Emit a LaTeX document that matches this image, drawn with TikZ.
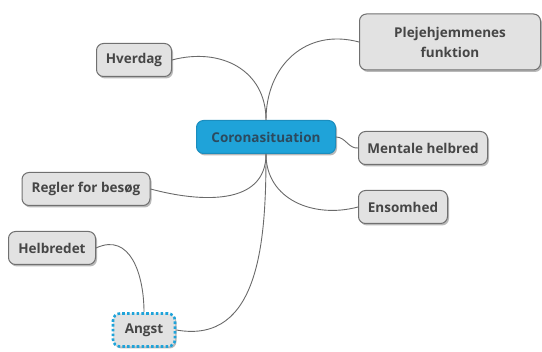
\documentclass[tikz,border=0pt]{standalone}
\usepackage{fontspec}
\setmainfont{Open Sans}
\usetikzlibrary{shadows}

\definecolor{boxfill}{HTML}{E2E2E2}
\definecolor{boxline}{HTML}{707070}
\definecolor{boxtext}{HTML}{464646}
\definecolor{corefill}{HTML}{1FA3D9}
\definecolor{coreline}{HTML}{1B8DBE}
\definecolor{coretext}{HTML}{2C4A5E}
\definecolor{branch}{HTML}{6A6A6A}

\tikzset{
  topic/.style={draw=boxline, fill=boxfill, rounded corners=7pt, line width=1pt,
    text=boxtext, font=\fontsize{13.5}{20}\selectfont\bfseries, align=center,
    minimum height=33pt, inner xsep=7pt,
    drop shadow={shadow xshift=1.5pt, shadow yshift=-2pt, fill=black!50, opacity=0.55}},
  core/.style={topic, draw=coreline, fill=corefill, text=coretext},
  marked/.style={topic, draw=corefill, line width=2.6pt, dash pattern=on 2.6pt off 2.2pt},
  link/.style={draw=branch, line width=0.9pt}
}

\begin{document}
\begin{tikzpicture}[x=1pt,y=-1pt]
    \useasboundingbox (0,0) rectangle (542,352);
    % centre
    \node[core, minimum width=139pt] (corona) at (266,137) {Coronasituation};
    % branches
    \node[topic, minimum width=181pt, minimum height=56pt] (pleje) at (450,42) {Plejehjemmenes\\funktion};
    \node[topic, minimum width=75pt] (hverdag) at (134,60) {Hverdag};
    \node[topic, minimum width=129pt] (mental) at (423,148) {Mentale helbred};
    \node[topic, minimum width=89pt] (ensom) at (403,207) {Ensomhed};
    \node[topic, minimum width=128pt] (regler) at (86,189) {Regler for besøg};
    \node[marked, minimum width=62pt] (angst) at (144,330) {Angst};
    \node[topic, minimum width=87pt] (helbred) at (52,248) {Helbredet};
    % connectors
    \draw[link] (corona.north) to[out=90, in=15, looseness=1.15] (hverdag.east);
    \draw[link] (corona.north) to[out=90, in=165, looseness=1.15] (pleje.west);
    \draw[link] (corona.east) to[out=0, in=185] (mental.west);
    \draw[link] (corona.south) to[out=-90, in=-15, looseness=1.1] (regler.east);
    \draw[link] (corona.south) to[out=-90, in=195, looseness=1.1] (ensom.west);
    \draw[link] (corona.south) to[out=-90, in=-10, looseness=1.1] (angst.east);
    \draw[link] (angst.north) to[out=90, in=25, looseness=1.2] (helbred.east);
\end{tikzpicture}
\end{document}
